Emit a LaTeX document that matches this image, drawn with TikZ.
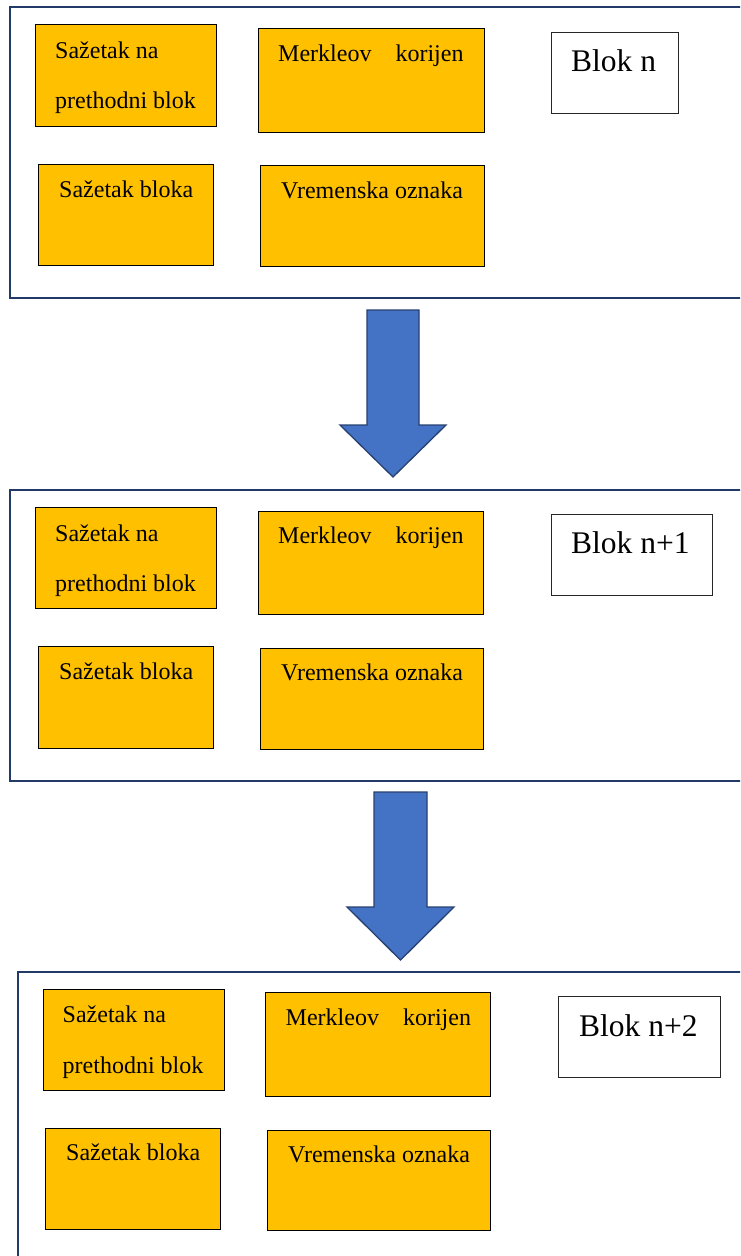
\documentclass[tikz,border=0pt]{standalone}
\usepackage{fontspec}
\setmainfont{Liberation Serif}
\definecolor{okvir}{RGB}{34,58,104}
\definecolor{zuta}{RGB}{255,192,0}
\definecolor{plava}{RGB}{68,114,196}
\definecolor{rubplave}{RGB}{40,64,112}
\begin{document}
\begin{tikzpicture}[x=1pt, y=-1pt,
    frame/.style={draw=okvir, line width=2.4pt},
    polje/.style={draw=black, fill=zuta, line width=1pt, anchor=north west, inner sep=0pt},
    blokbox/.style={draw=black!85, fill=white, line width=1pt, anchor=north west, inner sep=0pt, minimum height=81pt},
    txt/.style={anchor=base west, inner sep=0pt, font=\fontsize{24}{28}\selectfont},
    blokt/.style={txt, font=\fontsize{31.5}{36}\selectfont},
    bigarrow/.style={draw=rubplave, fill=plava, line width=1.3pt, line join=miter}]
		\clip (0,0) rectangle (740,1256);
		% outer frames
		\draw[frame] (10,7) rectangle (770,298);
		\draw[frame] (10,490) rectangle (770,781);
		\draw[frame] (18,972) rectangle (770,1280);
		% block n
		\node[polje, minimum width=181pt, minimum height=102pt] (prev0) at (35,24) {};
		\node[txt, xshift=20pt, yshift=-34pt] (prev0a) at (prev0.north west) {Sažetak na};
		\node[txt, xshift=20pt, yshift=-84pt] (prev0b) at (prev0.north west) {prethodni blok};
		\node[polje, minimum width=226pt, minimum height=104pt] (root0) at (258,28) {};
		\node[txt, xshift=20pt, yshift=-33pt] (root0t) at (root0.north west) {Merkleov\hspace{18pt} korijen};
		\node[blokbox, minimum width=127pt] (blok0) at (551,32) {};
		\node[blokt, xshift=20pt, yshift=-39pt] (blok0t) at (blok0.north west) {Blok n};
		\node[polje, minimum width=175pt, minimum height=101pt] (hash0) at (38,164) {};
		\node[txt, xshift=21pt, yshift=-33pt] (hash0t) at (hash0.north west) {Sažetak bloka};
		\node[polje, minimum width=224pt, minimum height=101pt] (time0) at (260,165) {};
		\node[txt, xshift=21pt, yshift=-33pt] (time0t) at (time0.north west) {Vremenska oznaka};
		% block n+1
		\node[polje, minimum width=181pt, minimum height=101pt] (prev1) at (35,507) {};
		\node[txt, xshift=20pt, yshift=-34pt] (prev1a) at (prev1.north west) {Sažetak na};
		\node[txt, xshift=20pt, yshift=-84pt] (prev1b) at (prev1.north west) {prethodni blok};
		\node[polje, minimum width=225pt, minimum height=103pt] (root1) at (258,511) {};
		\node[txt, xshift=20pt, yshift=-32pt] (root1t) at (root1.north west) {Merkleov\hspace{18pt} korijen};
		\node[blokbox, minimum width=161pt] (blok1) at (551,514) {};
		\node[blokt, xshift=20pt, yshift=-39pt] (blok1t) at (blok1.north west) {Blok n+1};
		\node[polje, minimum width=175pt, minimum height=102pt] (hash1) at (38,646) {};
		\node[txt, xshift=21pt, yshift=-33pt] (hash1t) at (hash1.north west) {Sažetak bloka};
		\node[polje, minimum width=223pt, minimum height=101pt] (time1) at (260,648) {};
		\node[txt, xshift=21pt, yshift=-32pt] (time1t) at (time1.north west) {Vremenska oznaka};
		% block n+2
		\node[polje, minimum width=181.5pt, minimum height=101pt] (prev2) at (42.5,989) {};
		\node[txt, xshift=20pt, yshift=-33pt] (prev2a) at (prev2.north west) {Sažetak na};
		\node[txt, xshift=20pt, yshift=-84pt] (prev2b) at (prev2.north west) {prethodni blok};
		\node[polje, minimum width=225pt, minimum height=104pt] (root2) at (265,992) {};
		\node[txt, xshift=20.5pt, yshift=-33pt] (root2t) at (root2.north west) {Merkleov\hspace{18pt} korijen};
		\node[blokbox, minimum width=162pt] (blok2) at (558,996) {};
		\node[blokt, xshift=21pt, yshift=-40pt] (blok2t) at (blok2.north west) {Blok n+2};
		\node[polje, minimum width=175pt, minimum height=101pt] (hash2) at (45,1128) {};
		\node[txt, xshift=21pt, yshift=-32pt] (hash2t) at (hash2.north west) {Sažetak bloka};
		\node[polje, minimum width=223pt, minimum height=100pt] (time2) at (267,1130) {};
		\node[txt, xshift=21pt, yshift=-32pt] (time2t) at (time2.north west) {Vremenska oznaka};
		% the big arrows between blocks
		\draw[bigarrow] (393,310) ++(-26,0) -- ++(52,0) -- ++(0,115) -- ++(27,0) -- ++(-53,52) -- ++(-53,-52) -- ++(27,0) -- cycle;
		\draw[bigarrow] (400.5,792) ++(-26.5,0) -- ++(53,0) -- ++(0,115) -- ++(27,0) -- ++(-53.5,53) -- ++(-53.5,-53) -- ++(27,0) -- cycle;
	\end{tikzpicture}
\end{document}
